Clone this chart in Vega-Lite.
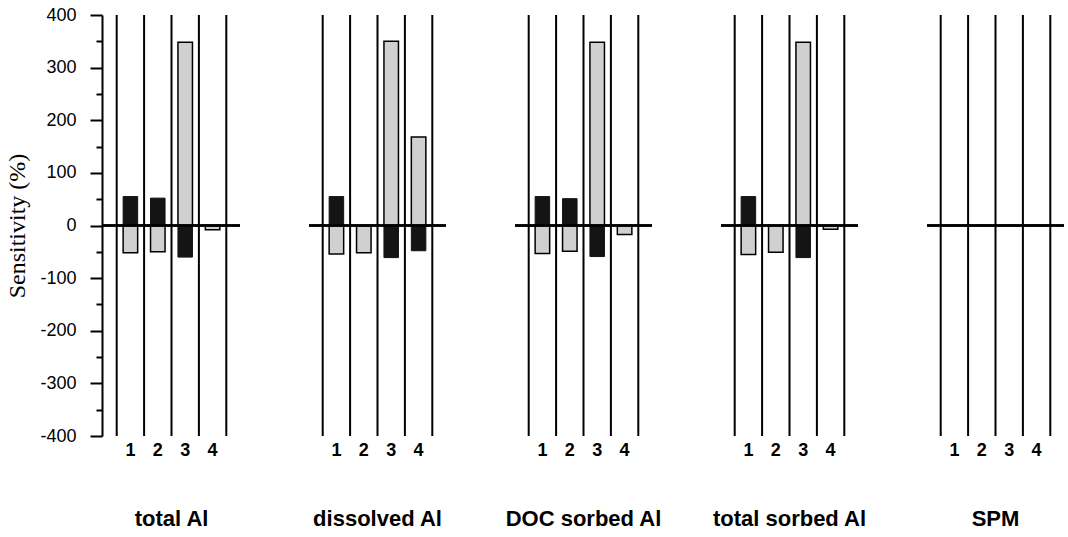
{
  "$schema": "https://vega.github.io/schema/vega-lite/v6.json",
  "background": "white",
  "padding": {"left": 5, "top": 6, "right": 0, "bottom": 0},
  "data": {"values": [
    {"panel": "total Al", "g": "1", "black": 55, "dotted": -52},
    {"panel": "total Al", "g": "2", "black": 52, "dotted": -50},
    {"panel": "total Al", "g": "3", "black": -60, "dotted": 348},
    {"panel": "total Al", "g": "4", "black": 0, "dotted": -8},
    {"panel": "dissolved Al", "g": "1", "black": 55, "dotted": -54},
    {"panel": "dissolved Al", "g": "2", "black": 0, "dotted": -52},
    {"panel": "dissolved Al", "g": "3", "black": -61, "dotted": 350},
    {"panel": "dissolved Al", "g": "4", "black": -48, "dotted": 168},
    {"panel": "DOC sorbed Al", "g": "1", "black": 55, "dotted": -53},
    {"panel": "DOC sorbed Al", "g": "2", "black": 51, "dotted": -49},
    {"panel": "DOC sorbed Al", "g": "3", "black": -59, "dotted": 348},
    {"panel": "DOC sorbed Al", "g": "4", "black": 0, "dotted": -17},
    {"panel": "total sorbed Al", "g": "1", "black": 55, "dotted": -55},
    {"panel": "total sorbed Al", "g": "2", "black": 0, "dotted": -51},
    {"panel": "total sorbed Al", "g": "3", "black": -61, "dotted": 348},
    {"panel": "total sorbed Al", "g": "4", "black": 0, "dotted": -7},
    {"panel": "SPM", "g": "1", "black": 0, "dotted": 0},
    {"panel": "SPM", "g": "2", "black": 0, "dotted": 0},
    {"panel": "SPM", "g": "3", "black": 0, "dotted": 0},
    {"panel": "SPM", "g": "4", "black": 0, "dotted": 0}
  ]},
  "facet": {
    "column": {
      "field": "panel", "type": "nominal",
      "sort": ["total Al", "dissolved Al", "DOC sorbed Al", "total sorbed Al", "SPM"],
      "header": {
        "title": null, "labelOrient": "bottom",
        "labelFont": "Liberation Sans", "labelFontSize": 22, "labelFontWeight": "bold",
        "labelColor": "black", "labelPadding": 50
      }
    }
  },
  "spacing": 67,
  "spec": {
    "width": 137,
    "height": 421,
    "resolve": {"axis": {"y": "independent"}},
    "layer": [
      {
        "mark": {"type": "rule", "xOffset": -13.7, "strokeWidth": 2, "color": "black"},
        "encoding": {"x": {"field": "g", "type": "ordinal", "title": null, "scale": {"paddingInner": 0.47, "paddingOuter": 0.735, "round": false}}}
      },
      {
        "transform": [{"filter": "datum.g == '4'"}],
        "mark": {"type": "rule", "xOffset": 13.7, "strokeWidth": 2, "color": "black"},
        "encoding": {"x": {"field": "g", "type": "ordinal", "title": null, "scale": {"paddingInner": 0.47, "paddingOuter": 0.735, "round": false}}}
      },
      {
        "mark": {"type": "bar", "fill": "#d0d0d0", "stroke": "black", "strokeWidth": 1.5},
        "encoding": {
          "x": {"field": "g", "type": "ordinal", "title": null, "scale": {"paddingInner": 0.47, "paddingOuter": 0.735, "round": false}},
          "y": {"field": "dotted", "type": "quantitative", "scale": {"domain": [-400, 400]},
                "axis": {"orient": "left", "values": [-400, -300, -200, -100, 0, 100, 200, 300, 400], "title": "Sensitivity (%)", "grid": false, "tickSize": 12,
                         "labelExpr": "datum.value < 0 ? '-' + abs(datum.value) : '' + datum.value"}}
        }
      },
      {
        "mark": {"type": "bar", "fill": "#141414", "stroke": "#141414", "strokeWidth": 1},
        "encoding": {
          "x": {"field": "g", "type": "ordinal", "title": null, "scale": {"paddingInner": 0.47, "paddingOuter": 0.735, "round": false}},
          "y": {"field": "black", "type": "quantitative", "scale": {"domain": [-400, 400]}, "axis": null}
        }
      },
      {
        "mark": {"type": "rule", "strokeWidth": 2, "color": "black"},
        "encoding": {
          "y": {"datum": 0, "type": "quantitative", "scale": {"domain": [-400, 400]},
                "axis": {"orient": "left", "values": [-350, -250, -150, -50, 50, 150, 250, 350], "labels": false, "domain": false, "grid": false, "tickSize": 6, "title": null}}
        }
      }
    ]
  },
  "config": {
    "view": {"stroke": null},
    "axisX": {
      "domain": false, "ticks": false, "grid": false, "labelAngle": 0,
      "labelFont": "Liberation Sans", "labelFontSize": 18, "labelFontWeight": "bold",
      "labelColor": "black", "labelPadding": 4
    },
    "axisY": {
      "domainColor": "black", "domainWidth": 2, "tickColor": "black", "tickWidth": 2,
      "labelFont": "Liberation Sans", "labelFontSize": 18, "labelColor": "black", "labelPadding": 14,
      "titleFont": "Liberation Serif", "titleFontSize": 24, "titleFontWeight": "normal",
      "titleColor": "black", "titlePadding": 10
    }
  }
}
